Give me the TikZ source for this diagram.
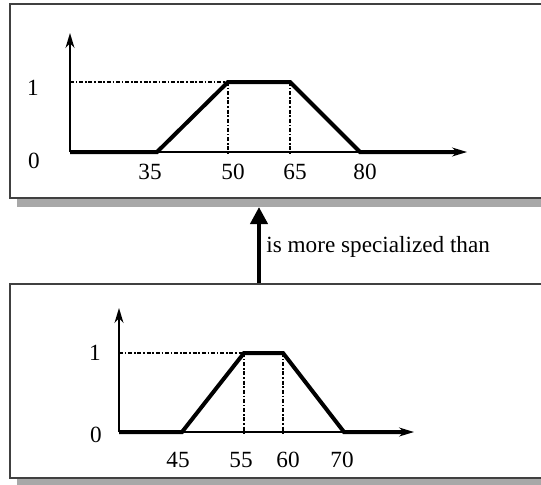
\documentclass[tikz,border=0pt]{standalone}
\usepackage{fontspec}
\setmainfont{Liberation Serif}
\usetikzlibrary{arrows.meta,fit,shadows}

\begin{document}
\begin{tikzpicture}[x=0.5pt,y=-0.5pt,
    panel/.style={draw=black!75,line width=1pt,fill=white,inner sep=0pt,
      drop shadow={shadow xshift=3.5pt,shadow yshift=-4.5pt,fill=black!34,opacity=1}},
    axis/.style={line width=0.7pt,-{Stealth[length=7.5pt,width=4.5pt]}},
    member/.style={line width=2pt,line join=miter},
    guide/.style={line width=0.65pt,dash pattern=on 2pt off 0.9pt on 0.8pt off 0.9pt},
    tick/.style={font=\fontsize{11.6}{14}\selectfont,inner sep=0pt}]
    \useasboundingbox (0,0) rectangle (541,484);
    % the two frames
    \node (upper) [panel,fit={(10,4) (545,198)}] {};
    \node (lower) [panel,fit={(10,284) (545,478)}] {};
    % arrow between them
    \coordinate (tip) at (259,207);
    \draw[line width=2pt,-{Triangle[length=8.5pt,width=8.5pt]}] (lower.north -| tip) -- (tip);
    \node[tick,anchor=base west] (rel) at (266,252) {is more specialized than};

    % upper membership function
    \coordinate (o1) at (70,152);
    \draw[axis] (o1) -- (70,33);
    \draw[axis] (o1) -- (467,152);
    \draw[guide] (70,82) -- (228,82);
    \draw[guide] (228,82) -- (228,155);
    \draw[guide] (290,82) -- (290,155);
    \draw[member] (o1) -- (157,152) -- (228,82) -- (290,82) -- (360,152) -- (458,152);
    \node[tick] (one1) at (33,88) {1};
    \node[tick] (zero1) at (34,161) {0};
    \node[tick] (t35) at (150,172) {35};
    \node[tick] (t50) at (233,172) {50};
    \node[tick] (t65) at (295,172) {65};
    \node[tick] (t80) at (365,172) {80};

    % lower membership function
    \coordinate (o2) at (119,432);
    \draw[axis] (o2) -- (119,308);
    \draw[axis] (o2) -- (414,432);
    \draw[guide] (119,353) -- (244,353);
    \draw[guide] (244,353) -- (244,435);
    \draw[guide] (283,353) -- (283,435);
    \draw[member] (o2) -- (182,432) -- (244,353) -- (283,353) -- (344,432) -- (405,432);
    \node[tick] (one2) at (95,353) {1};
    \node[tick] (zero2) at (96,435) {0};
    \node[tick] (t45) at (178,460) {45};
    \node[tick] (t55) at (241,460) {55};
    \node[tick] (t60) at (288,460) {60};
    \node[tick] (t70) at (342,460) {70};
\end{tikzpicture}
\end{document}
